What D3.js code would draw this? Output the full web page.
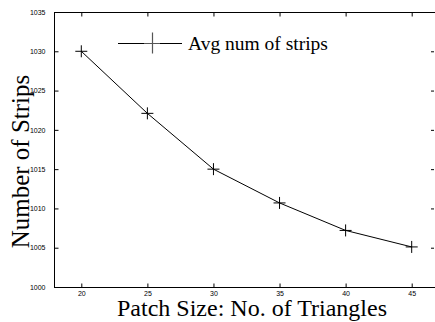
<!DOCTYPE html>
<html>
<head>
<meta charset="utf-8">
<script src="https://cdn.jsdelivr.net/npm/d3@7"></script>
<style>
  body { margin: 0; background: #fff; }
  .tick text { font-family: 'Liberation Sans', Arial, sans-serif; font-size: 7px; fill: #000; }
  .domain { display: none; }
</style>
</head>
<body>
<svg id="chart" width="435" height="322"></svg>
<script>
var patchSizes = [ 20, 25, 30, 35, 40, 45 ],
  avgStrips = [ 1030, 1022.1, 1015, 1010.7, 1007.2, 1005.1 ],
  xTicks = [ 20, 25, 30, 35, 40, 45 ],
  yTicks = [ 1000, 1005, 1010, 1015, 1020, 1025, 1030, 1035 ],
  seriesName = 'Avg num of strips';

var svg = d3.select( '#chart' ),
  box = { left: 54, right: 435, top: 12, bottom: 287 };

var x = d3.scaleLinear().domain( [ 20, 45 ] ).range( [ 81.3, 411.7 ] );
var y = d3.scaleLinear().domain( [ 1000, 1035 ] ).range( [ box.bottom, box.top ] );

var data = patchSizes.map( ( p, i ) => ( { x: p, y: avgStrips[ i ] } ) );

// frame
svg.append( 'rect' )
  .attr( 'x', box.left + 0.5 ).attr( 'y', box.top + 0.5 )
  .attr( 'width', box.right - box.left ).attr( 'height', box.bottom - box.top )
  .attr( 'fill', 'none' ).attr( 'stroke', '#000' ).attr( 'stroke-width', 1 );

// axes with inward ticks
svg.append( 'g' )
  .attr( 'transform', 'translate(0,' + ( box.bottom + 0.5 ) + ')' )
  .call( d3.axisBottom( x ).tickValues( xTicks ).tickSize( -4 ).tickPadding( 4 ) );
svg.append( 'g' )
  .attr( 'transform', 'translate(0,' + ( box.top + 0.5 ) + ')' )
  .call( d3.axisTop( x ).tickValues( xTicks ).tickSize( -4 ).tickFormat( '' ) );
svg.append( 'g' )
  .attr( 'transform', 'translate(' + ( box.left + 0.5 ) + ',0)' )
  .call( d3.axisLeft( y ).tickValues( yTicks ).tickSize( -4 ).tickPadding( 9 ).tickFormat( d3.format( 'd' ) ) );
svg.append( 'g' )
  .attr( 'transform', 'translate(' + ( box.right - 1 ) + ',0)' )
  .call( d3.axisRight( y ).tickValues( yTicks ).tickSize( -3 ).tickFormat( '' ) );

svg.selectAll( '.tick line' ).attr( 'stroke', '#000' );

// line
var line = d3.line().x( d => x( d.x ) ).y( d => y( d.y ) );
svg.append( 'path' )
  .datum( data )
  .attr( 'd', line )
  .attr( 'fill', 'none' ).attr( 'stroke', '#000' ).attr( 'stroke-width', 1 );

// plus markers
svg.selectAll( '.pt' )
  .data( data )
  .enter().append( 'path' )
    .attr( 'class', 'pt' )
    .attr( 'd', d => 'M' + ( x( d.x ) - 6 ) + ',' + y( d.y ) + 'H' + ( x( d.x ) + 6 ) +
      'M' + x( d.x ) + ',' + ( y( d.y ) - 6 ) + 'V' + ( y( d.y ) + 6 ) )
    .attr( 'stroke', '#000' ).attr( 'stroke-width', 1 );

// legend
var legend = svg.append( 'g' ).attr( 'transform', 'translate(118,43.5)' );
legend.append( 'line' )
  .attr( 'x1', 0 ).attr( 'x2', 64 )
  .attr( 'stroke', '#000' );
legend.append( 'path' )
  .attr( 'd', 'M26,0H42M34.5,-11V10' )
  .attr( 'stroke', '#555' ).attr( 'stroke-width', 1.2 );
legend.append( 'text' )
  .attr( 'x', 70 ).attr( 'y', 6 )
  .style( 'font-family', "'Liberation Serif', 'Times New Roman', serif" )
  .style( 'font-size', '19.5px' )
  .text( seriesName );

// axis titles
svg.append( 'text' )
  .attr( 'x', 252 ).attr( 'y', 316 )
  .attr( 'text-anchor', 'middle' )
  .style( 'font-family', "'Liberation Serif', 'Times New Roman', serif" )
  .style( 'font-size', '24px' )
  .text( 'Patch Size: No. of Triangles' );

svg.append( 'text' )
  .attr( 'transform', 'translate(29,161.5) rotate(-90)' )
  .attr( 'text-anchor', 'middle' )
  .style( 'font-family', "'Liberation Serif', 'Times New Roman', serif" )
  .style( 'font-size', '25px' )
  .text( 'Number of Strips' );
</script>
</body>
</html>
